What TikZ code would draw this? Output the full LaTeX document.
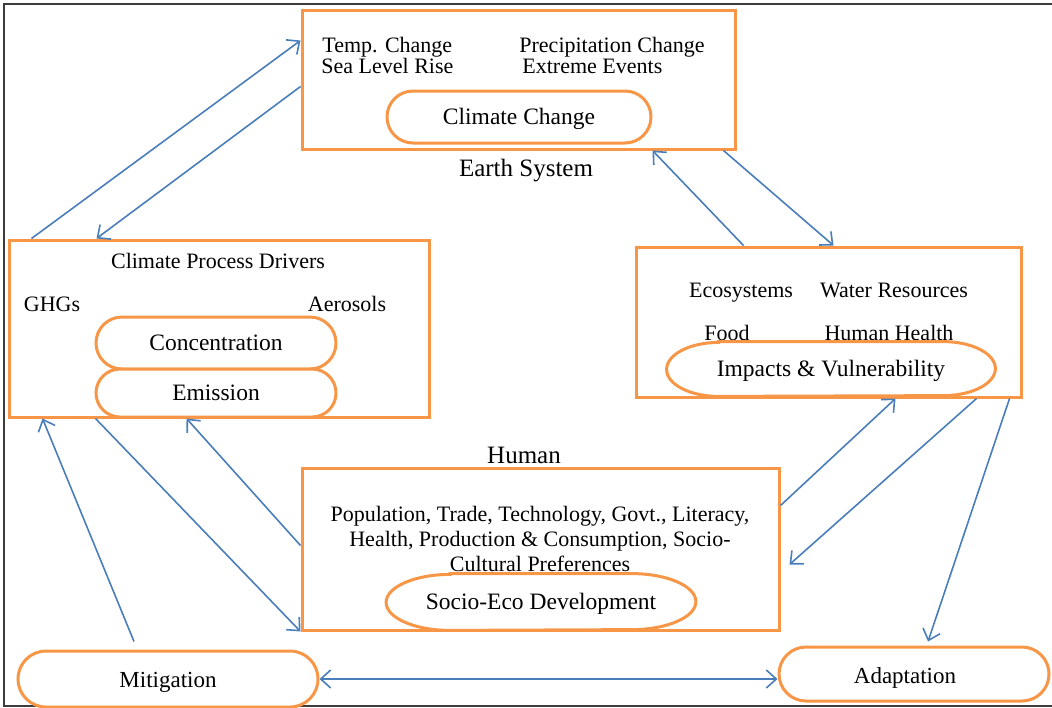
\documentclass[tikz,border=0pt]{standalone}
\usepackage{fontspec}
\setmainfont{Liberation Serif}
\usetikzlibrary{arrows.meta,shapes.misc,shapes.geometric,calc}
\definecolor{orng}{HTML}{F79646}
\definecolor{blu}{HTML}{4A7EBB}
\definecolor{frm}{HTML}{3C3C3C}
% soft oval outline: #1 node name, #2 end x radius, #3 half height
\newcommand\softoval[3]{%
  \draw[orng,line width=1.5pt] ($(#1.north west)+(#2,0)$) -- ($(#1.north east)-(#2,0)$)
    arc[start angle=90,end angle=-90,x radius=#2,y radius=#3]
    -- ($(#1.south west)+(#2,0)$)
    arc[start angle=270,end angle=90,x radius=#2,y radius=#3] -- cycle;}
\begin{document}
\begin{tikzpicture}[x=0.5pt,y=-0.5pt,
  box/.style={draw=orng,line width=1.5pt,rectangle,inner sep=0pt},
  pill/.style={draw=orng,line width=1.5pt,rounded rectangle,inner sep=0pt,fill=white,font=\fontsize{11.75}{14}\selectfont,text height=1.6ex,text depth=0ex},
  oval/.style={rectangle,inner sep=0pt,font=\fontsize{11.75}{14}\selectfont,text height=1.6ex,text depth=0ex},
  lbl/.style={inner sep=0pt,font=\fontsize{11}{13}\selectfont,text height=1.6ex,text depth=0ex},
  big/.style={inner sep=0pt,font=\fontsize{12.5}{15}\selectfont,text height=1.6ex,text depth=0ex},
  conn/.style={draw=blu,line width=0.8pt,-{Straight Barb[length=5pt,width=9pt]}},
  dconn/.style={draw=blu,line width=0.8pt,{Straight Barb[length=5pt,width=9pt]}-{Straight Barb[length=5pt,width=9pt]}}]
\useasboundingbox (0,0) rectangle (1052,707);
\draw[frm,line width=1pt] (1052,4) -- (4,4) -- (4,706) -- (1052,706);

% Earth system
\node[box,minimum width=216.5pt,minimum height=69.5pt] (earth) at (518.5,79.5) {};
\node[lbl,anchor=west] (tc) at (322,45) {Temp. Change};
\node[lbl,anchor=west] (pc) at (519,45) {Precipitation Change};
\node[lbl,anchor=west] (slr) at (321,66) {Sea Level Rise};
\node[lbl,anchor=west] (ee) at (522,66) {Extreme Events};
\node[pill,minimum width=132pt,minimum height=26pt] (cc) at (519,117) {Climate Change};
\node[big] (earthlbl) at (526,169) {Earth System};

% Climate process drivers
\node[box,minimum width=210pt,minimum height=88.5pt] (drivers) at (219,328.5) {};
\node[lbl] (cpd) at (218,261) {Climate Process Drivers};
\node[lbl] (ghg) at (52,304) {GHGs};
\node[lbl] (aer) at (347,304) {Aerosols};
\node[pill,minimum width=120pt,minimum height=26pt] (conc) at (216,343) {Concentration};
\node[pill,minimum width=120pt,minimum height=24pt] (emis) at (216,393) {Emission};

% Impacts
\node[box,minimum width=192.5pt,minimum height=75pt] (imp) at (828.5,322) {};
\node[lbl] (eco) at (741,290) {Ecosystems};
\node[lbl] (wat) at (894,290) {Water Resources};
\node[lbl] (food) at (727,333) {Food};
\node[lbl] (hh) at (889,333) {Human Health};
\node[oval,minimum width=164pt,minimum height=27pt] (iv) at (831,369) {Impacts \& Vulnerability};
\softoval{iv}{26pt}{13.5pt}

% Human
\node[big] (humlbl) at (524,456) {Human};
\node[box,minimum width=238.5pt,minimum height=81pt] (human) at (540.5,549) {};
\node[lbl,align=center,font=\fontsize{11}{12.5}\selectfont,text height=,text depth=] (humtxt) at (540,539)
  {Population, Trade, Technology, Govt., Literacy,\\Health, Production \& Consumption, Socio-\\Cultural Preferences};
\node[oval,minimum width=154.5pt,minimum height=28pt] (sed) at (541,602) {Socio-Eco Development};
\softoval{sed}{32pt}{14pt}

% Mitigation / Adaptation
\node[pill,minimum width=150pt,minimum height=28pt] (mit) at (168,679) {};
\node[oval,font=\fontsize{11.5}{14}\selectfont] (mittxt) at (168,680) {Mitigation};
\node[pill,minimum width=135pt,minimum height=27pt] (ada) at (914,674) {};
\node[oval,font=\fontsize{11.5}{14}\selectfont] (adatxt) at (905,676) {Adaptation};

% connectors
\draw[conn] ([xshift=12pt]drivers.north west) -- ([yshift=-16pt]earth.north west);
\draw[conn] ([yshift=-39pt]earth.north west) -- ([xshift=44.5pt]drivers.north west);
\draw[conn] ([xshift=54.5pt]imp.north west) -- ([xshift=-42pt]earth.south east);
\draw[conn] ([xshift=-6.5pt]earth.south east) -- ([xshift=99.5pt]imp.north west);
\draw[conn] ([yshift=-19.5pt]human.north east) -- ([xshift=130.5pt]imp.south west);
\draw[conn] ([xshift=-23pt]imp.south east) -- ([xshift=4.5pt,yshift=-49pt]human.north east);
\draw[conn] ([xshift=-6.5pt]imp.south east) -- ([xshift=7pt,yshift=2pt]ada.north);
\draw[conn] ([yshift=-39.5pt]human.north west) -- ([xshift=89.5pt]drivers.south west);
\draw[conn] ([xshift=44pt]drivers.south west) -- (human.south west);
\draw[conn] ([xshift=-17pt,yshift=4pt]mit.north) -- ([xshift=17.5pt]drivers.south west);
\draw[dconn] (mit.east) -- (mit.east -| ada.west);
\end{tikzpicture}
\end{document}
